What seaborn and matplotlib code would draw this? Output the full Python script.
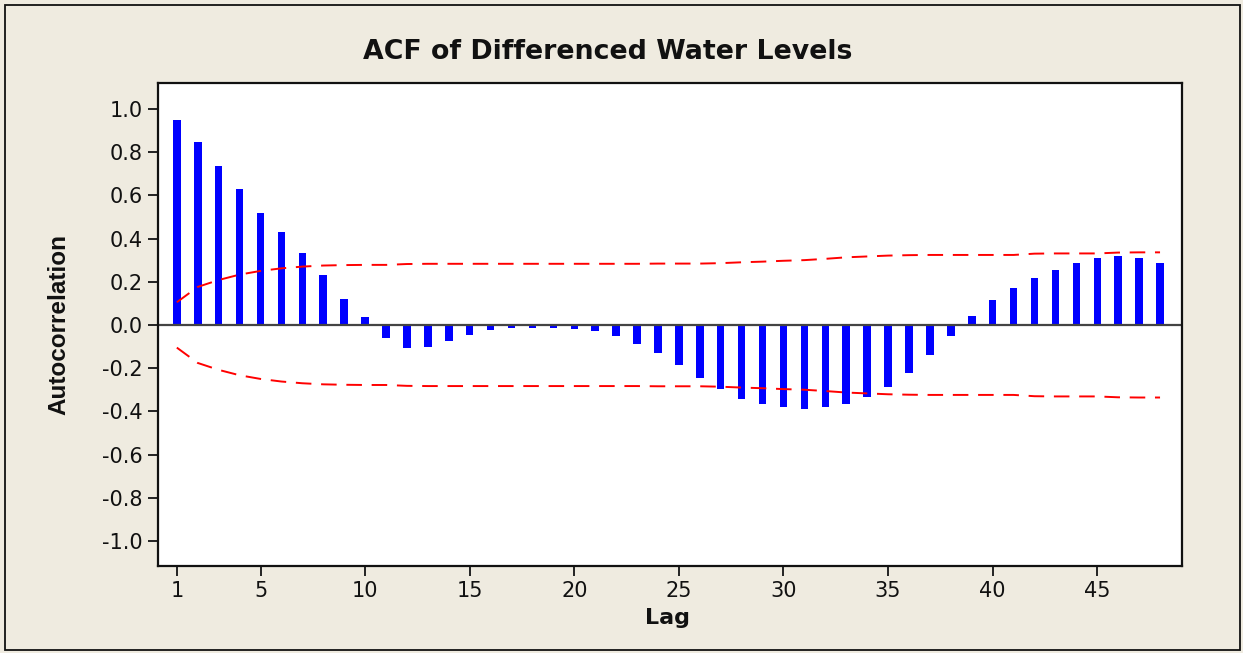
import matplotlib
matplotlib.use("Agg")
import matplotlib.pyplot as plt
from matplotlib.patches import Rectangle
from matplotlib.ticker import FormatStrFormatter
import seaborn as sns

lags = list(range(1, 49))
acf = [0.949, 0.846, 0.736, 0.627, 0.517, 0.429, 0.335, 0.231, 0.122, 0.035,
       -0.06, -0.105, -0.10, -0.075, -0.045, -0.025, -0.015, -0.012, -0.012, -0.018,
       -0.03, -0.053, -0.09, -0.13, -0.184, -0.245, -0.295, -0.343, -0.366, -0.381,
       -0.39, -0.381, -0.366, -0.335, -0.286, -0.224, -0.137, -0.05, 0.043, 0.114,
       0.17, 0.216, 0.256, 0.287, 0.31, 0.319, 0.31, 0.287]
upper = [0.105, 0.176, 0.208, 0.233, 0.250, 0.262, 0.270, 0.275, 0.277, 0.278,
         0.278, 0.282, 0.283, 0.283, 0.283, 0.283, 0.283, 0.283, 0.283, 0.283,
         0.283, 0.283, 0.283, 0.284, 0.284, 0.284, 0.286, 0.290, 0.293, 0.297,
         0.300, 0.306, 0.313, 0.317, 0.321, 0.323, 0.324, 0.324, 0.324, 0.324,
         0.324, 0.330, 0.331, 0.331, 0.331, 0.335, 0.336, 0.336]
lower = [-0.105, -0.176, -0.208, -0.233, -0.250, -0.262, -0.270, -0.275, -0.277, -0.278,
         -0.278, -0.282, -0.283, -0.283, -0.283, -0.283, -0.283, -0.283, -0.283, -0.283,
         -0.283, -0.283, -0.283, -0.284, -0.284, -0.284, -0.286, -0.290, -0.293, -0.297,
         -0.300, -0.306, -0.313, -0.317, -0.321, -0.323, -0.324, -0.324, -0.324, -0.324,
         -0.324, -0.330, -0.331, -0.331, -0.331, -0.335, -0.336, -0.336]
xticks = [1, 5, 10, 15, 20, 25, 30, 35, 40, 45]
yticks = [-1.0, -0.8, -0.6, -0.4, -0.2, 0.0, 0.2, 0.4, 0.6, 0.8, 1.0]
title = "ACF of Differenced Water Levels"
xlabel = "Lag"
ylabel = "Autocorrelation"

plt.rcParams["font.family"] = ["DejaVu Sans"]
bg = "#EFEBE0"

fig = plt.figure(figsize=(12.43, 6.53), dpi=100, facecolor=bg)
ax = fig.add_axes([158 / 1243, 87 / 653, 1024 / 1243, 483 / 653])
ax.set_facecolor("white")

sns.barplot(x=lags, y=acf, native_scale=True, width=0.36, color="#0000FF",
            saturation=1, errorbar=None, linewidth=0, ax=ax)
ax.axhline(0, color="#444444", lw=1.6, zorder=1)
for lim in (upper, lower):
    sns.lineplot(x=lags, y=lim, color="#FF0000", lw=1.4, ax=ax, zorder=3)
    ax.lines[-1].set_dashes([8, 5])

ax.set_xlim(0.1, 49.05)
ax.set_ylim(-1.116, 1.12)
ax.set_xticks(xticks)
ax.set_yticks(yticks)
ax.yaxis.set_major_formatter(FormatStrFormatter("%.1f"))
ax.tick_params(direction="out", length=7, width=1.4, color="#222222",
               labelsize=15, labelcolor="#111111", pad=4)
for s in ax.spines.values():
    s.set_linewidth(1.6)
    s.set_color("#111111")
ax.set_xlabel("")
ax.set_ylabel("")

fig.text(608 / 1243, 1 - 52 / 653, title, ha="center", va="center",
         fontsize=19.3, fontweight="bold", family="DejaVu Sans", color="#111111")
fig.text(668 / 1243, 1 - 618 / 653, xlabel, ha="center", va="center",
         fontsize=16, fontweight="bold", family="DejaVu Sans", color="#111111")
fig.text(59 / 1243, 1 - 325 / 653, ylabel, ha="center", va="center", rotation=90,
         fontsize=17.5, fontweight="bold", family="Liberation Sans", color="#111111")

fig.patches.append(Rectangle((5 / 1243, 3 / 653), 1235 / 1243, 645 / 653,
                             transform=fig.transFigure, fill=False,
                             edgecolor="#111111", lw=1.3))

fig.savefig("out.png", dpi=100, facecolor=bg)
